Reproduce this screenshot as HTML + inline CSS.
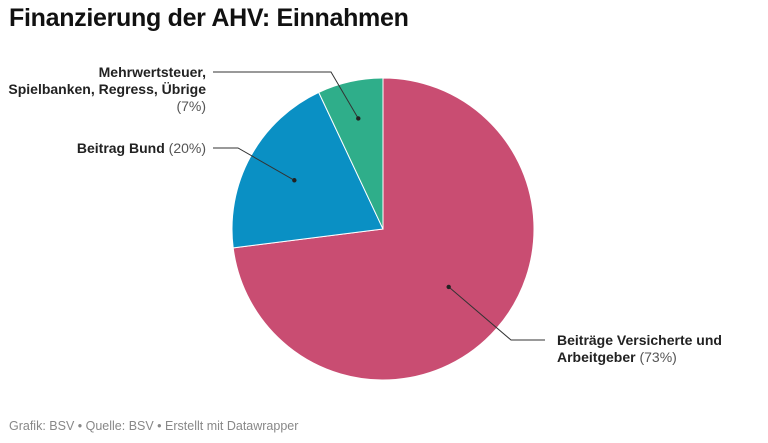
<!DOCTYPE html>
<html><head><meta charset="utf-8"><style>
body{margin:0;background:#fff;font-family:"Liberation Sans",sans-serif;}
#c{position:relative;width:768px;height:443px;overflow:hidden}
h1{position:absolute;left:9px;top:4px;margin:0;font-size:25px;font-weight:bold;color:#111;letter-spacing:-0.3px}
.ft{position:absolute;left:9px;top:419px;font-size:12.5px;color:#888}
</style></head><body>
<div id="c">
<h1>Finanzierung der AHV: Einnahmen</h1>
<svg id="s" width="768" height="443" style="position:absolute;left:0;top:0"></svg>
<div class="ft">Grafik: BSV • Quelle: BSV • Erstellt mit Datawrapper</div>
</div>
<script>
const categories=["Beiträge Versicherte und Arbeitgeber","Beitrag Bund","Mehrwertsteuer, Spielbanken, Regress, Übrige"];
const values=[73,20,7];
const colors=["#c94d72","#0a90c4","#2fae8a"];
const cx=383,cy=229,r=151;
const s=document.getElementById('s');
const NS="http://www.w3.org/2000/svg";
const total=values.reduce((a,b)=>a+b,0);
function pt(a,rr){return [cx+rr*Math.sin(a),cy-rr*Math.cos(a)];}
let a0=0;const mids=[];
values.forEach((v,i)=>{
 const a1=a0+v/total*2*Math.PI;
 const p0=pt(a0,r),p1=pt(a1,r);
 const large=(a1-a0)>Math.PI?1:0;
 const p=document.createElementNS(NS,'path');
 p.setAttribute('d',`M${cx},${cy}L${p0[0]},${p0[1]}A${r},${r} 0 ${large} 1 ${p1[0]},${p1[1]}Z`);
 p.setAttribute('fill',colors[i]);p.setAttribute('stroke','#fff');p.setAttribute('stroke-width','1');
 
 
 s.appendChild(p);
 mids.push((a0+a1)/2);a0=a1;
});
// label leader lines
const leaders=[
 {i:0,rr:0.58,pts:[[511,340],[545,340]]},
 {i:1,rr:0.67,pts:[[238,148],[213,148]]},
 {i:2,rr:0.75,pts:[[331,72],[213,72]]}
];
leaders.forEach(l=>{
 const d=pt(mids[l.i],r*l.rr);
 const pl=document.createElementNS(NS,'polyline');
 pl.setAttribute('points',[d].concat(l.pts).map(q=>q.join(',')).join(' '));
 pl.setAttribute('fill','none');pl.setAttribute('stroke','#333');pl.setAttribute('stroke-width','1');
 
 
 s.appendChild(pl);
 const c=document.createElementNS(NS,'circle');
 c.setAttribute('cx',d[0]);c.setAttribute('cy',d[1]);c.setAttribute('r','2.2');c.setAttribute('fill','#222');
 
 
 s.appendChild(c);
});
function txt(x,y,anchor,parts,name){
 const t=document.createElementNS(NS,'text');
 t.setAttribute('x',x);t.setAttribute('y',y);t.setAttribute('text-anchor',anchor);
 t.setAttribute('font-size','14');t.setAttribute('font-family','Liberation Sans, sans-serif');
 
 
 parts.forEach(([str,b])=>{const sp=document.createElementNS(NS,'tspan');sp.textContent=str;
  sp.setAttribute('fill',b?'#222':'#555');if(b)sp.setAttribute('font-weight','bold');t.appendChild(sp);});
 s.appendChild(t);
}
txt(206,77,'end',[["Mehrwertsteuer,",1]],'label-other-line1');
txt(206,94,'end',[["Spielbanken, Regress, Übrige",1]],'label-other-line2');
txt(206,111,'end',[["("+values[2]+"%)",0]],'label-other-value');
txt(206,153,'end',[["Beitrag Bund",1],[" ("+values[1]+"%)",0]],'label-bund');
txt(557,345,'start',[["Beiträge Versicherte und",1]],'label-beitraege-line1');
txt(557,362,'start',[["Arbeitgeber",1],[" ("+values[0]+"%)",0]],'label-beitraege-line2');
</script>
</body></html>
